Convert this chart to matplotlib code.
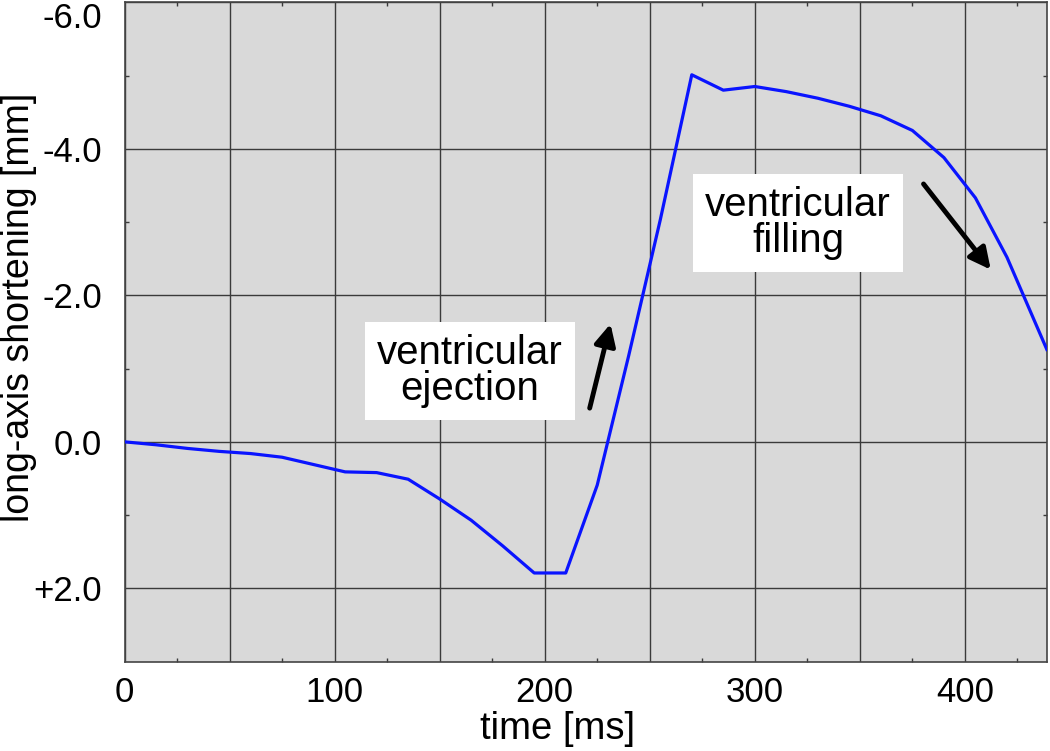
import numpy as np
import matplotlib
matplotlib.use("Agg")
import matplotlib.pyplot as plt

plt.rcParams['font.family'] = ['Liberation Sans', 'DejaVu Sans']

# long-axis shortening curve, time in ms, value in mm
time_ms = [0, 15, 30, 45, 60, 75, 90, 105, 120, 135, 150, 165, 180, 195, 210,
           225, 240, 255, 270, 285, 300, 315, 330, 345, 360, 375, 390, 405, 420, 439]
shortening = [0.0, 0.04, 0.09, 0.13, 0.16, 0.21, 0.31, 0.41, 0.42, 0.51, 0.78, 1.07, 1.42, 1.79, 1.79,
              0.59, -1.18, -3.03, -5.01, -4.80, -4.85, -4.78, -4.69, -4.58, -4.45, -4.25, -3.88, -3.33, -2.52, -1.26]

x_ticks = [0, 50, 100, 150, 200, 250, 300, 350, 400]
x_labels = ['0', '', '100', '', '200', '', '300', '', '400']
y_ticks = [-6, -4, -2, 0, 2]
y_labels = ['-6.0', '-4.0', '-2.0', '0.0', '+2.0']

fig, ax = plt.subplots(figsize=(10.5, 7.51), dpi=100)
fig.subplots_adjust(left=0.1186, right=0.997, bottom=0.119, top=0.997)

ax.set_facecolor('#d9d9d9')
ax.plot(time_ms, shortening, color='#0a14ff', lw=2.3, zorder=3)

ax.set_xlim(0, 439)
ax.set_ylim(3, -6)

ax.set_xticks(x_ticks)
ax.set_xticklabels(x_labels)
ax.set_xticks(np.arange(25, 440, 50), minor=True)
ax.set_yticks(y_ticks)
ax.set_yticklabels(y_labels)
ax.set_yticks([-5, -3, -1, 1], minor=True)

ax.grid(True, which='major', color='#3a3a3a', lw=1.0)
ax.tick_params(which='both', direction='in', top=True, right=True,
               color='#3a3a3a', labelsize=25)
ax.tick_params(which='major', length=0)
ax.tick_params(axis='x', which='major', pad=10)
ax.tick_params(axis='y', which='major', pad=16)
ax.tick_params(which='minor', length=3, width=1)
for s in ax.spines.values():
    s.set_color('#444444')
    s.set_linewidth(1.2)

# top label sits inside the figure like in the original
ax.get_yticklabels()[0].set_va('top')

ax.set_xlabel('time [ms]', fontsize=27.5)
ax.set_ylabel('long-axis shortening [mm]', fontsize=27)
ax.xaxis.set_label_coords(0.469, -0.075)
ax.yaxis.set_label_coords(-0.095, 0.538)

box = dict(boxstyle='square,pad=0.3', facecolor='white', edgecolor='none')
ax.text(164.5, -0.97, 'ventricular\nejection', fontsize=29, ha='center', va='center',
        linespacing=0.92, bbox=box, zorder=4)
ax.text(320.6, -2.99, 'ventricular\nfilling', fontsize=29, ha='center', va='center',
        linespacing=0.92, bbox=box, zorder=4)

arrow = dict(arrowstyle='-|>', lw=3.5, color='black', mutation_scale=32,
             shrinkA=0, shrinkB=0)
ax.annotate('', xy=(231.3, -1.61), xytext=(221.4, -0.46), arrowprops=arrow, zorder=5)
ax.annotate('', xy=(412.3, -2.35), xytext=(380.3, -3.52), arrowprops=arrow, zorder=5)

fig.savefig('out.png', dpi=100)
